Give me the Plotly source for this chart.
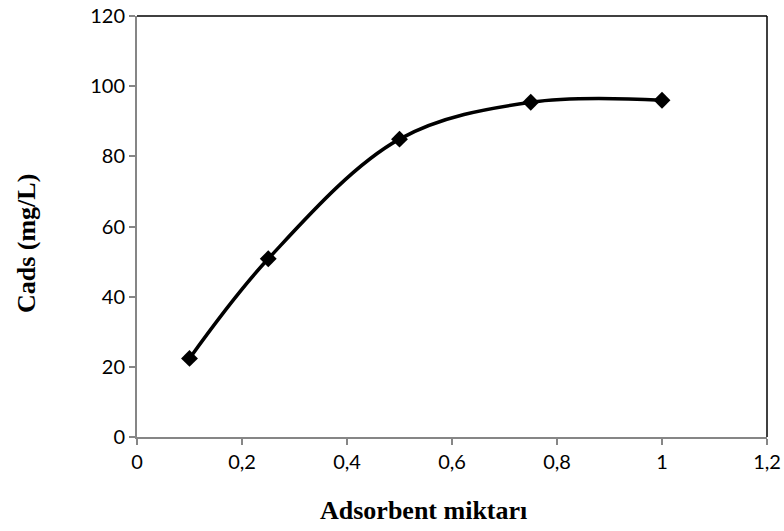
import plotly.graph_objects as go

x_vals = [0.1, 0.25, 0.5, 0.75, 1.0]
y_vals = [22.4, 50.8, 84.9, 95.4, 96.0]
x_ticks = [0, 0.2, 0.4, 0.6, 0.8, 1.0, 1.2]
x_tick_text = ["0", "0,2", "0,4", "0,6", "0,8", "1", "1,2"]
y_ticks = [0, 20, 40, 60, 80, 100, 120]

fig = go.Figure()
fig.add_trace(go.Scatter(
    x=x_vals, y=y_vals, mode="lines+markers",
    line=dict(color="black", width=3.5, shape="spline", smoothing=1.0),
    marker=dict(symbol="diamond", size=13, color="black"),
    showlegend=False,
))

tick_font = dict(family="Lato, Open Sans, sans-serif", size=20, color="black")
title_font = dict(family="Liberation Serif, Times New Roman, serif", size=26, color="black")

fig.update_layout(
    width=784, height=531,
    margin=dict(l=137, r=17, t=16, b=94),
    plot_bgcolor="white", paper_bgcolor="white",
    xaxis=dict(
        range=[0, 1.2], tickvals=x_ticks, ticktext=x_tick_text, automargin=False,
        showgrid=False, zeroline=False, showline=True, linecolor="#868686", linewidth=2,
        ticks="outside", ticklen=6, tickcolor="#868686", tickwidth=2,
        tickfont=tick_font,
    ),
    yaxis=dict(
        range=[0, 120], tickvals=y_ticks, automargin=False,
        showgrid=False, zeroline=False, showline=True, linecolor="#868686", linewidth=2,
        ticks="outside", ticklen=6, tickcolor="#868686", tickwidth=2,
        tickfont=tick_font,
    ),
    annotations=[
        dict(text="<b>Adsorbent miktarı</b>", font=title_font, showarrow=False,
             xref="paper", yref="paper", x=0.454, y=-0.175, xanchor="center", yanchor="middle"),
        dict(text="<b>Cads (mg/L)</b>", font=title_font, showarrow=False, textangle=-90,
             xref="paper", yref="paper", x=-0.175, y=0.46, xanchor="center", yanchor="middle"),
    ],
    shapes=[
        dict(type="line", xref="paper", yref="paper", x0=0, x1=1, y0=1, y1=1,
             line=dict(color="black", width=1.5)),
        dict(type="line", xref="paper", yref="paper", x0=1, x1=1, y0=0, y1=1,
             line=dict(color="black", width=1.5)),
    ],
)

fig.write_html("out.html")
